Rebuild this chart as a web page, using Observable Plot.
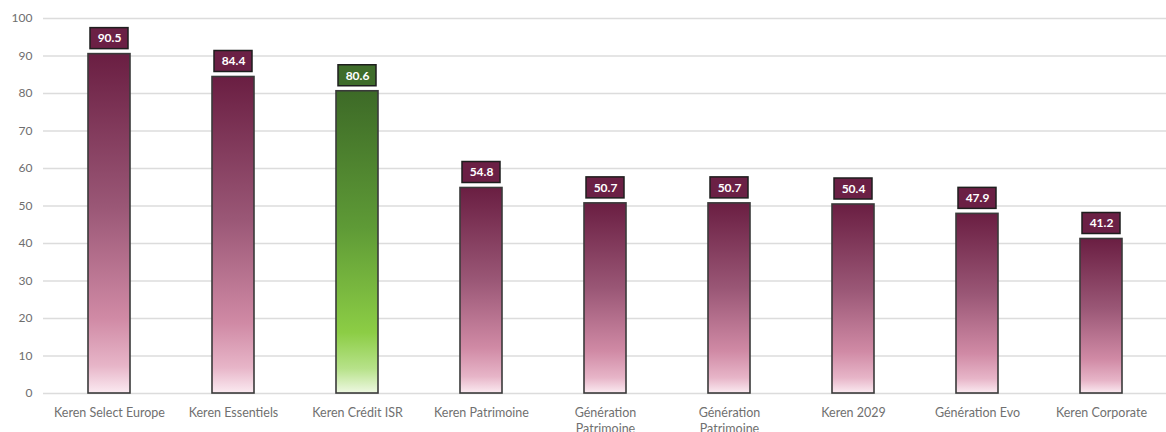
<!DOCTYPE html>
<html>
<head>
<meta charset="utf-8">
<script src="https://cdn.jsdelivr.net/npm/d3@7"></script>
<script src="https://cdn.jsdelivr.net/npm/@observablehq/plot@0.6"></script>
<style>
  html, body { margin: 0; padding: 0; background: #fff; }
  #chart svg { display: block; }
</style>
</head>
<body>
<div id="chart"></div>
<script>
const categories = ["Keren Select Europe", "Keren Essentiels", "Keren Crédit ISR", "Keren Patrimoine", "Génération Patrimoine", "Génération Patrimoine", "Keren 2029", "Génération Evo", "Keren Corporate"];
const values = [90.5, 84.4, 80.6, 54.8, 50.7, 50.7, 50.4, 47.9, 41.2];
const highlighted = ["Keren Crédit ISR"];
const tickLabels = ["Keren Select Europe", "Keren Essentiels", "Keren Crédit ISR", "Keren Patrimoine", "Génération\nPatrimoine", "Génération\nPatrimoine", "Keren 2029", "Génération Evo", "Keren Corporate"];
const yTicks = [0, 10, 20, 30, 40, 50, 60, 70, 80, 90, 100];

const data = categories.map((c, i) => ({i, name: c, value: values[i], green: highlighted.includes(c)}));
const font = "Lato, 'Open Sans', sans-serif";

const chart = Plot.plot({
  width: 1166,
  height: 432,
  marginTop: 18,
  marginBottom: 39,
  marginLeft: 43,
  marginRight: 0,
  style: {fontFamily: font, background: "#fff"},
  x: {domain: d3.range(categories.length), paddingInner: 0.665, paddingOuter: 0.3325, label: null},
  y: {domain: [0, 100], label: null},
  marks: [
    Plot.gridY(yTicks, {stroke: "#dcdcdc", strokeOpacity: 1, strokeWidth: 1.5}),
    Plot.axisY(yTicks, {tickSize: 0, tickPadding: 11, fontSize: 12, fill: "#6e6e6e", label: null}),
    Plot.axisX({tickSize: 0, tickPadding: 12, fontSize: 12.5, fill: "#707070", label: null, lineHeight: 1.3,
      tickFormat: i => tickLabels[i]}),
    Plot.barY(data.filter(d => !d.green), {x: "i", y: "value", fill: "url(#gradPink)", stroke: "#3a3a3a", strokeWidth: 1.6}),
    Plot.barY(data.filter(d => d.green), {x: "i", y: "value", fill: "url(#gradGreen)", stroke: "#3a3a3a", strokeWidth: 1.6}),
    Plot.barY(data, {x: "i", y1: "value", y2: "value", insetTop: -26, insetBottom: 5, insetLeft: 2, insetRight: 2,
      fill: d => d.green ? "#3f6d2b" : "#6b2045", stroke: "#1e1e1e", strokeWidth: 1.5}),
    Plot.text(data, {x: "i", y: "value", text: d => d.value.toFixed(1), dy: -15.5, fill: "#fff",
      fontWeight: "bold", fontSize: 12, fontFamily: font})
  ]
});

const svgNS = "http://www.w3.org/2000/svg";
const defs = document.createElementNS(svgNS, "defs");
function grad(id, stops) {
  const g = document.createElementNS(svgNS, "linearGradient");
  g.setAttribute("id", id);
  g.setAttribute("x1", "0"); g.setAttribute("y1", "0");
  g.setAttribute("x2", "0"); g.setAttribute("y2", "1");
  for (const [off, col] of stops) {
    const s = document.createElementNS(svgNS, "stop");
    s.setAttribute("offset", off);
    s.setAttribute("stop-color", col);
    g.appendChild(s);
  }
  defs.appendChild(g);
}
grad("gradPink", [["0", "#6a1e42"], ["0.45", "#9a5776"], ["0.78", "#d08aa5"], ["0.92", "#e7b5c8"], ["1", "#fbeaf1"]]);
grad("gradGreen", [["0", "#3d6a27"], ["0.45", "#5e9a36"], ["0.8", "#8ccd45"], ["0.92", "#b7e28a"], ["1", "#eef8e2"]]);
chart.insertBefore(defs, chart.firstChild);

document.getElementById("chart").appendChild(chart);
</script>
</body>
</html>
